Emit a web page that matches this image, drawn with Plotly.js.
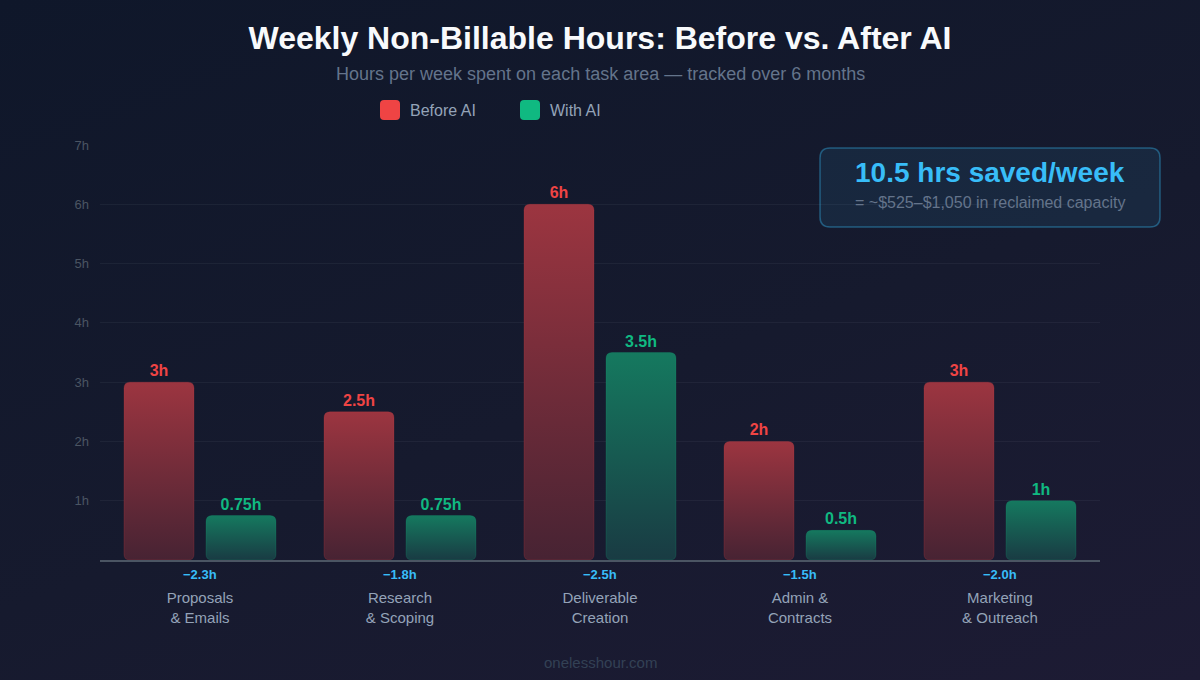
<!DOCTYPE html>
<html>
<head>
<meta charset="utf-8">
<script src="https://cdn.plot.ly/plotly-3.0.1.min.js"></script>
<style>
  html, body { margin: 0; padding: 0; }
  body {
    width: 1200px; height: 680px; overflow: hidden;
    background: linear-gradient(160deg, #0f172a 0%, #161a2e 55%, #1d1b34 100%);
    font-family: "Liberation Sans", Arial, sans-serif;
  }
  #chart { width: 1200px; height: 680px; }
</style>
</head>
<body>
<div id="chart"></div>
<script>
// Task areas and weekly hours
const categories = [
  'Proposals<br>& Emails',
  'Research<br>& Scoping',
  'Deliverable<br>Creation',
  'Admin &<br>Contracts',
  'Marketing<br>& Outreach'
];
const beforeAI = [3, 2.5, 6, 2, 3];
const withAI = [0.75, 0.75, 3.5, 0.5, 1];
const yTickVals = [1, 2, 3, 4, 5, 6, 7];
const yTickText = yTickVals.map(v => v + 'h');

const RED = '#ef4444';
const GREEN = '#10b981';
const SKY = '#38bdf8';
const FONT = '"Liberation Sans", Arial, sans-serif';

// Plot area in pixels: x 100..1100, y 145..560
const plotTop = 145, plotBottom = 560, plotH = plotBottom - plotTop;
const py = px => (plotBottom - px) / plotH;      // pixel row -> paper y
const pxX = px => (px - 100) / 1000;              // pixel column -> paper x

const hoursLabel = v => '<b>' + v + 'h</b>';

const traces = [
  {
    type: 'bar', name: 'Before AI', x: categories, y: beforeAI,
    marker: { color: RED, cornerradius: 6, line: { width: 1, color: 'rgba(239,68,68,0.18)' } },
    text: beforeAI.map(hoursLabel), texttemplate: '%{text}', textposition: 'outside',
    textfont: { color: RED, size: 16, family: FONT },
    cliponaxis: false, hoverinfo: 'skip'
  },
  {
    type: 'bar', name: 'With AI', x: categories, y: withAI,
    marker: { color: GREEN, cornerradius: 6, line: { width: 1, color: 'rgba(16,185,129,0.18)' } },
    text: withAI.map(hoursLabel), texttemplate: '%{text}', textposition: 'outside',
    textfont: { color: GREEN, size: 16, family: FONT },
    cliponaxis: false, hoverinfo: 'skip'
  }
];

// Savings per category, shown under the axis
const deltaAnnotations = categories.map((c, i) => ({
  x: c, xref: 'x', y: 0, yref: 'y', yanchor: 'top', xanchor: 'center', yshift: -5,
  text: '<b>\u2212' + (beforeAI[i] - withAI[i]).toFixed(1) + 'h</b>',
  showarrow: false, font: { color: SKY, size: 13, family: FONT }
}));

// Rounded summary box
const bx0 = pxX(820), bx1 = pxX(1160), by0 = py(227), by1 = py(148);
const rx = 10 / 1000, ry = 10 / plotH;
const boxPath = `M ${bx0 + rx},${by0} L ${bx1 - rx},${by0} Q ${bx1},${by0} ${bx1},${by0 + ry} ` +
  `L ${bx1},${by1 - ry} Q ${bx1},${by1} ${bx1 - rx},${by1} L ${bx0 + rx},${by1} ` +
  `Q ${bx0},${by1} ${bx0},${by1 - ry} L ${bx0},${by0 + ry} Q ${bx0},${by0} ${bx0 + rx},${by0} Z`;

const layout = {
  width: 1200, height: 680,
  paper_bgcolor: 'rgba(0,0,0,0)', plot_bgcolor: 'rgba(0,0,0,0)',
  margin: { l: 100, r: 100, t: plotTop, b: 680 - plotBottom, pad: 0 },
  font: { family: FONT, color: '#94a3b8' },
  title: {
    text: '<b>Weekly Non-Billable Hours: Before vs. After AI</b>',
    x: 0.5, xanchor: 'center', y: 1 - 38 / 680, yanchor: 'middle',
    font: { size: 32, color: '#f8fafc', family: FONT }
  },
  barmode: 'group', bargap: 0.18, bargroupgap: 0.146,
  showlegend: true,
  legend: {
    orientation: 'h', xref: 'container', yref: 'container',
    x: 370 / 1200, xanchor: 'left', y: 1 - 93 / 680, yanchor: 'top',
    font: { size: 16, color: '#94a3b8', family: FONT },
    itemwidth: 30, entrywidth: 95, entrywidthmode: 'pixels',
    bgcolor: 'rgba(0,0,0,0)', traceorder: 'normal'
  },
  xaxis: {
    type: 'category', range: [-0.5, 4.5],
    showgrid: false, zeroline: false,
    showline: true, linecolor: '#4b5563', linewidth: 2,
    ticks: '', ticklabelstandoff: 23,
    tickfont: { size: 15, color: '#94a3b8', family: FONT },
    fixedrange: true
  },
  yaxis: {
    range: [0, 7], tickvals: yTickVals, ticktext: yTickText,
    showgrid: true, gridcolor: 'rgba(148,163,184,0.08)', gridwidth: 1,
    zeroline: false, showline: false, ticks: '', ticklabelstandoff: 10,
    tickfont: { size: 13, color: '#4b5563', family: FONT },
    fixedrange: true
  },
  shapes: [
    { type: 'path', xref: 'paper', yref: 'paper', path: boxPath,
      fillcolor: 'rgba(56,189,248,0.09)', line: { color: 'rgba(56,189,248,0.38)', width: 1.5 }, layer: 'above' }
  ],
  annotations: [
    { xref: 'paper', yref: 'paper', x: 0.5, y: py(74), xanchor: 'center', yanchor: 'middle', showarrow: false,
      text: 'Hours per week spent on each task area \u2014 tracked over 6 months',
      font: { size: 18, color: '#64748b', family: FONT } },
    { xref: 'paper', yref: 'paper', x: pxX(990), y: py(172), xanchor: 'center', yanchor: 'middle', showarrow: false,
      text: '<b>10.5 hrs saved/week</b>', font: { size: 28, color: SKY, family: FONT } },
    { xref: 'paper', yref: 'paper', x: pxX(990), y: py(202), xanchor: 'center', yanchor: 'middle', showarrow: false,
      text: '= ~$525\u2013$1,050 in reclaimed capacity', font: { size: 16, color: '#64748b', family: FONT } },
    { xref: 'paper', yref: 'paper', x: 0.5, y: py(662), xanchor: 'center', yanchor: 'middle', showarrow: false,
      text: 'onelesshour.com', font: { size: 15, color: '#334155', family: FONT } }
  ].concat(deltaAnnotations)
};

const gradients = [
  { id: 'gradBefore', top: '#9c3540', bottom: '#472333' },
  { id: 'gradAfter', top: '#15795f', bottom: '#193b43' }
];

function roundedRectPath(x, y, w, h, r) {
  r = Math.min(r, w / 2, h / 2);
  return `M${x + r},${y}H${x + w - r}Q${x + w},${y} ${x + w},${y + r}` +
    `V${y + h - r}Q${x + w},${y + h} ${x + w - r},${y + h}` +
    `H${x + r}Q${x},${y + h} ${x},${y + h - r}V${y + r}Q${x},${y} ${x + r},${y}Z`;
}

Plotly.newPlot('chart', traces, layout, { displayModeBar: false, staticPlot: true }).then(gd => {
  const svg = gd.querySelector('.main-svg');
  const ns = 'http://www.w3.org/2000/svg';
  const defs = svg.querySelector('defs');
  gradients.forEach(g => {
    const lg = document.createElementNS(ns, 'linearGradient');
    lg.setAttribute('id', g.id);
    lg.setAttribute('x1', '0'); lg.setAttribute('y1', '0');
    lg.setAttribute('x2', '0'); lg.setAttribute('y2', '1');
    [[0, g.top], [1, g.bottom]].forEach(([o, c]) => {
      const s = document.createElementNS(ns, 'stop');
      s.setAttribute('offset', o);
      s.setAttribute('stop-color', c);
      lg.appendChild(s);
    });
    defs.appendChild(lg);
  });
  // Gradient fill with all four corners rounded
  gd.querySelectorAll('.barlayer .trace').forEach((tr, i) => {
    tr.querySelectorAll('.point path').forEach(p => {
      const b = p.getBBox();
      p.setAttribute('d', roundedRectPath(b.x, b.y, b.width, b.height, 6));
      p.style.fill = `url(#${gradients[i].id})`;
    });
  });
  // Larger rounded legend swatches
  gd.querySelectorAll('.legend .legendpoints path').forEach(p => {
    p.setAttribute('d', roundedRectPath(-10, -10, 20, 20, 4));
    p.style.strokeWidth = '0';
  });
});
</script>
</body>
</html>
